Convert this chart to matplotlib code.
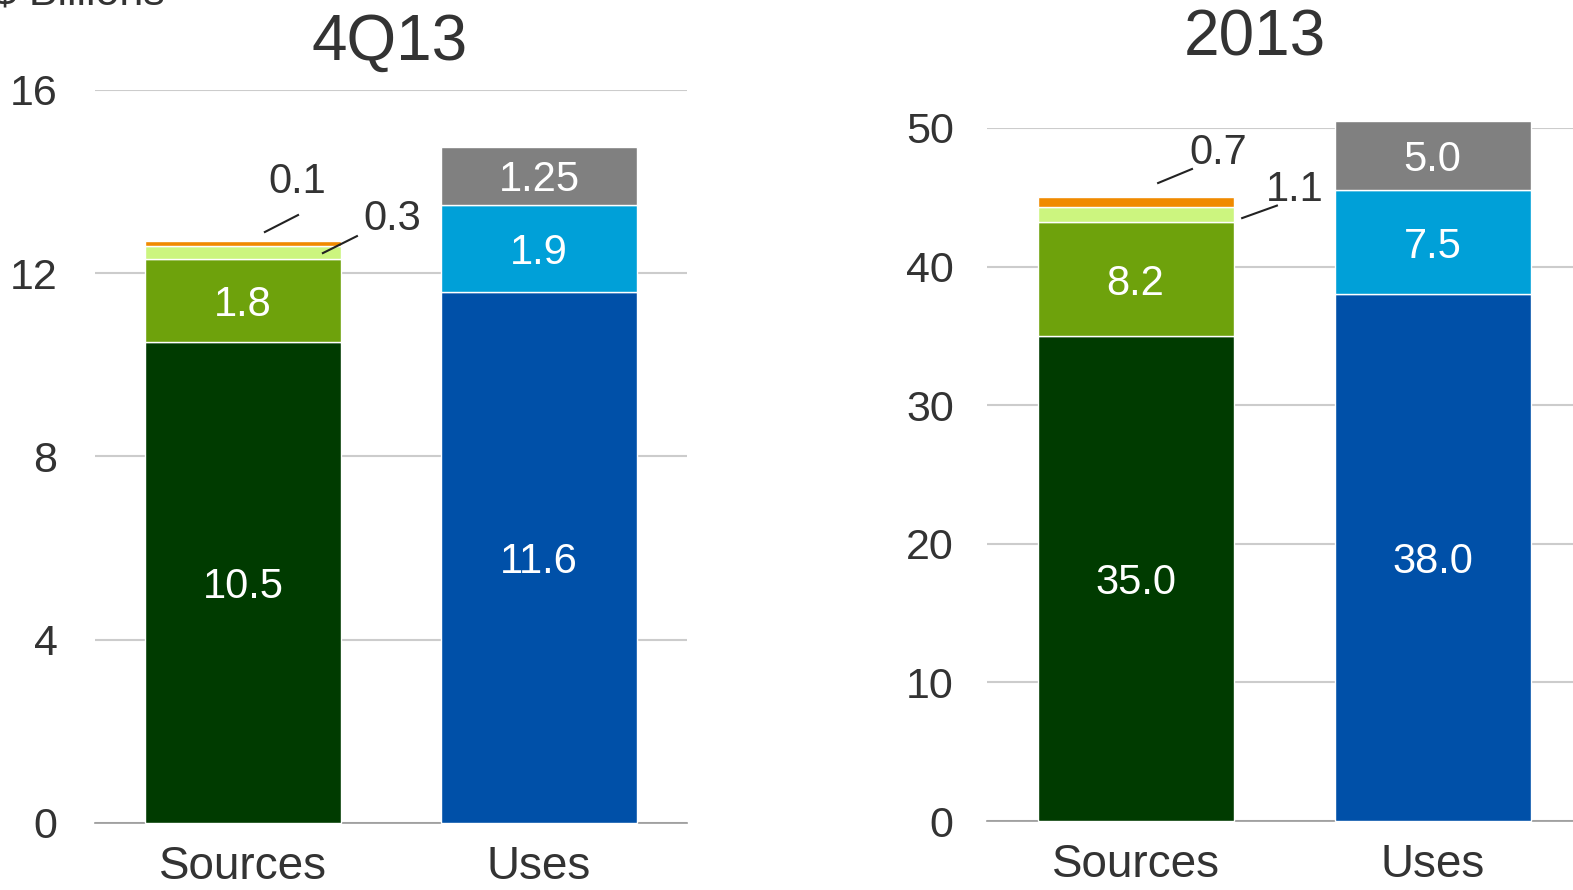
import matplotlib.pyplot as plt
import numpy as np

plt.rcParams['font.family'] = ['Liberation Sans', 'DejaVu Sans']

# stacked components, bottom to top
categories = ['Sources', 'Uses']

q_sources = [10.5, 1.8, 0.3, 0.1]
q_uses = [11.6, 1.9, 1.25]
y_sources = [35.0, 8.2, 1.1, 0.7]
y_uses = [38.0, 7.5, 5.0]

src_colors = ['#003b00', '#6ea20c', '#ccf57f', '#f08a00']
use_colors = ['#0050a8', '#00a0d8', '#808080']

TXT = '#333333'
GRID = '#cccccc'


def stack(ax, xpos, vals, colors, labels):
    bottom = 0.0
    for v, c, lab in zip(vals, colors, labels):
        ax.bar(xpos, v, bottom=bottom, width=0.66, color=c,
               edgecolor='white', linewidth=1.0, clip_on=False, zorder=3)
        if lab:
            ax.text(xpos, bottom + v / 2, lab, ha='center', va='center_baseline',
                    color='white', fontsize=30, zorder=4)
        bottom += v
    return bottom


def setup(ax, ymax, step, pad):
    ax.set_xlim(-0.5, 1.5)
    ax.set_ylim(0, ymax)
    ax.set_yticks(np.arange(0, ymax + step / 2, step))
    ax.set_xticks(range(len(categories)))
    ax.set_xticklabels(categories)
    ax.tick_params(axis='y', length=0, pad=pad, labelsize=31, labelcolor=TXT)
    ax.tick_params(axis='x', length=0, pad=16, labelsize=33, labelcolor=TXT)
    ax.yaxis.grid(True, color=GRID, linewidth=1.5, zorder=0)
    ax.set_axisbelow(True)
    for s in ['top', 'right', 'left']:
        ax.spines[s].set_visible(False)
    ax.spines['bottom'].set_color('#999999')
    ax.spines['bottom'].set_linewidth(1.2)


fig = plt.figure(figsize=(15.73, 8.9), dpi=100)

# ---- 4Q13 ----
ax1 = fig.add_axes([0.0604, 0.0753, 0.3763, 0.8236])
setup(ax1, 16, 4, 27)
stack(ax1, 0, q_sources, src_colors, ['10.5', '1.8', None, None])
stack(ax1, 1, q_uses, use_colors, ['11.6', '1.9', '1.25'])
fig.text(0.248, 0.952, '4Q13', ha='center', va='center', fontsize=46, color=TXT)

# small segments get leader lines
for lab, (x0, y0, x1, y1, tx, ty) in [
        ('0.1', (0.074, 12.90, 0.186, 13.27, 0.182, 13.99)),
        ('0.3', (0.270, 12.44, 0.385, 12.81, 0.503, 13.19))]:
    ax1.plot([x0, x1], [y0, y1], color='#222222', lw=1.5, zorder=5, clip_on=False)
    ax1.text(tx, ty, lab, ha='center', va='center', fontsize=30, color=TXT)

# ---- 2013 ----
ax2 = fig.add_axes([0.6275, 0.0775, 0.3776, 0.7787])
setup(ax2, 50, 10, 24)
stack(ax2, 0, y_sources, src_colors, ['35.0', '8.2', None, None])
stack(ax2, 1, y_uses, use_colors, ['38.0', '7.5', '5.0'])
fig.text(0.798, 0.957, '2013', ha='center', va='center', fontsize=46, color=TXT)

for lab, (x0, y0, x1, y1, tx, ty) in [
        ('0.7', (0.076, 46.03, 0.190, 47.04, 0.278, 48.2)),
        ('1.1', (0.359, 43.5, 0.476, 44.4, 0.537, 45.5))]:
    ax2.plot([x0, x1], [y0, y1], color='#222222', lw=1.5, zorder=5, clip_on=False)
    ax2.text(tx, ty, lab, ha='center', va='center', fontsize=30, color=TXT)

fig.text(-0.0045, 0.9944, '$ Billions', ha='left', va='baseline',
         fontsize=31, color=TXT)

fig.savefig('out.png', dpi=100)
